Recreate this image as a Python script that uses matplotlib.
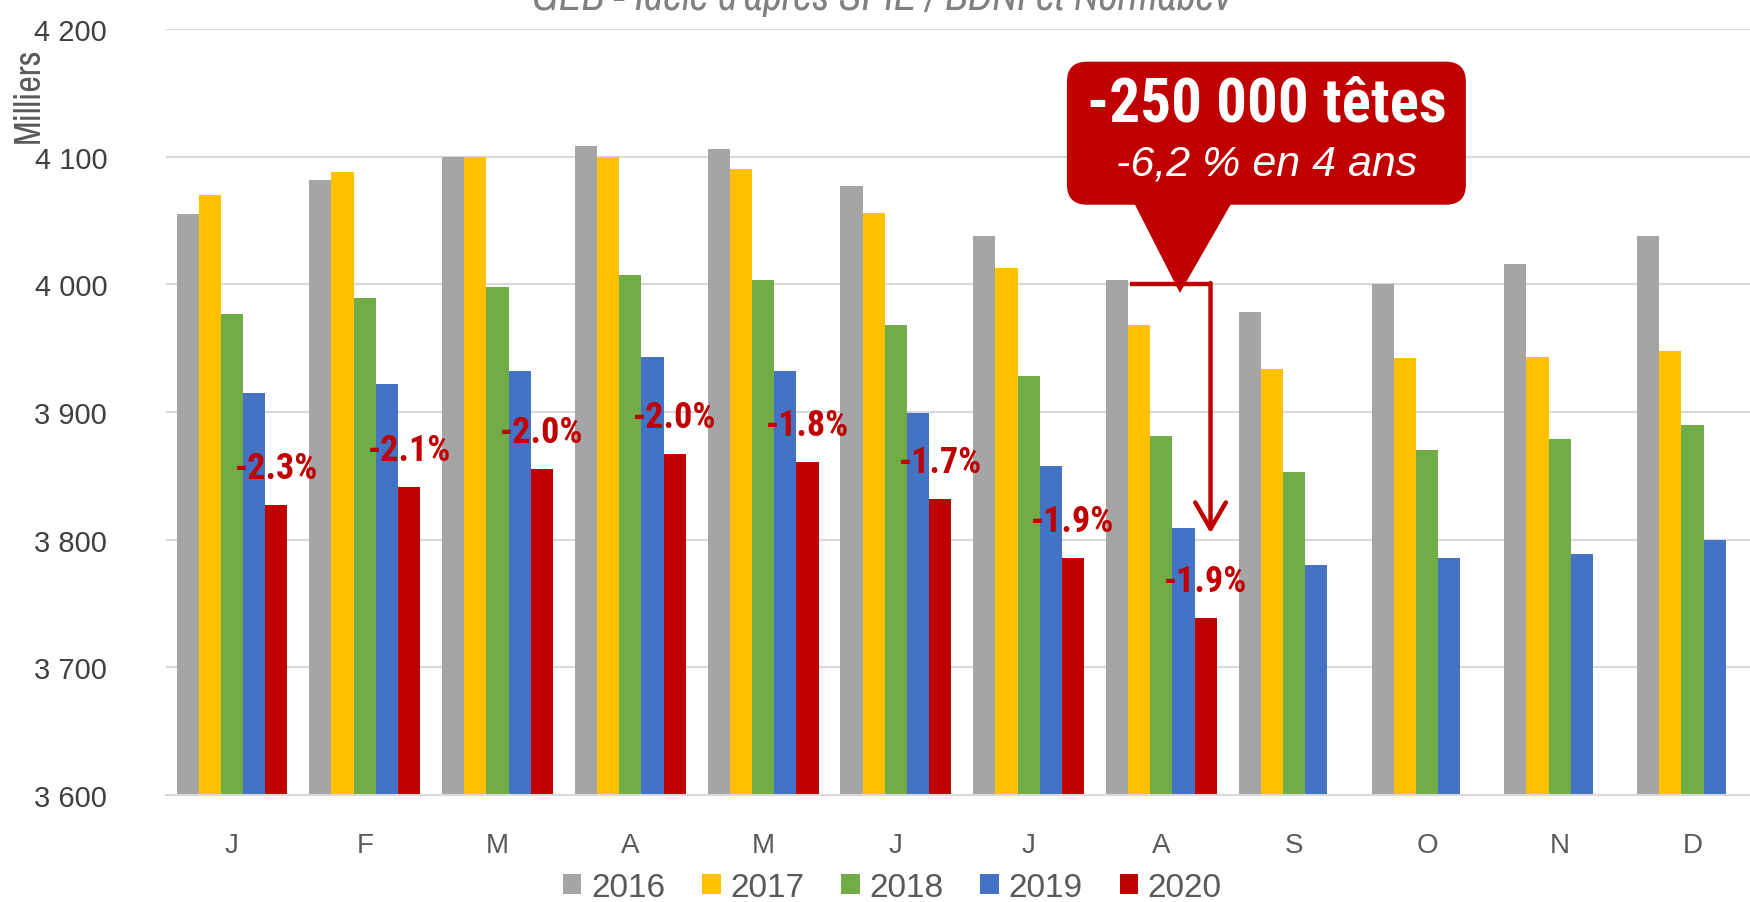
# lib data visualizations
import numpy as np
import matplotlib
matplotlib.use("Agg")
import matplotlib.pyplot as plt
from matplotlib.patches import FancyBboxPatch, Polygon
# ----------------------------------------------------------------------------------------

# data (milliers de tetes)
months = ["J", "F", "M", "A", "M", "J", "J", "A", "S", "O", "N", "D"]
years = ["2016", "2017", "2018", "2019", "2020"]
y2016 = [4055, 4082, 4100, 4108, 4106, 4077, 4038, 4003, 3978, 4000, 4016, 4038]
y2017 = [4070, 4088, 4100, 4100, 4090, 4056, 4013, 3968, 3934, 3942, 3943, 3948]
y2018 = [3977, 3989, 3998, 4007, 4003, 3968, 3928, 3881, 3853, 3870, 3879, 3890]
y2019 = [3915, 3922, 3932, 3943, 3932, 3899, 3858, 3809, 3780, 3786, 3789, 3800]
y2020 = [3827, 3841, 3855, 3867, 3861, 3832, 3786, 3739, np.nan, np.nan, np.nan, np.nan]
pct_labels = ["-2.3%", "-2.1%", "-2.0%", "-2.0%", "-1.8%", "-1.7%", "-1.9%", "-1.9%"]
colors = ["#A5A5A5", "#FFC000", "#70AD47", "#4472C4", "#C00000"]
yticks = [3600, 3700, 3800, 3900, 4000, 4100, 4200]

NARROW = ["Archivo Narrow", "Roboto Condensed", "Liberation Sans"]
NARROW_BOLD = ["Roboto Condensed", "Liberation Sans"]
SANS = ["Liberation Sans", "DejaVu Sans"]
RED = "#C00000"
# ----------------------------------------------------------------------------------------

# create barplot
fig = plt.figure(figsize=(17.5, 9.03), dpi=100)
ax = fig.add_axes([0.0946, 0.1185, 0.9105, 0.8483])

x = np.arange(len(months))
w = 0.167
series = [y2016, y2017, y2018, y2019, y2020]
for i, (vals, lab, col) in enumerate(zip(series, years, colors)):
    ax.bar(x + (i - 2) * w, vals, width=w, color=col, label=lab, zorder=2)

# percent labels above the 2020 bars
for i, txt in enumerate(pct_labels):
    ax.text(x[i] + 2 * w, y2020[i] + 29, txt, ha="center", va="center",
            fontsize=26, fontweight="bold", color=RED, family=NARROW_BOLD, zorder=4)

# axes
ax.set_xlim(-0.5, len(months) - 0.5)
ax.set_ylim(3600, 4200)
ax.set_yticks(yticks)
ax.set_yticklabels([f"{v // 1000} {v % 1000:03d}" for v in yticks],
                   fontsize=21, color="#404040", family=SANS)
ax.set_xticks(x)
ax.set_xticklabels(months, fontsize=20, color="#595959", family=SANS)
ax.tick_params(axis="y", length=0, pad=42)
ax.tick_params(axis="x", length=0, pad=27)
ax.grid(True, axis="y", color="#D9D9D9", linewidth=1.5, zorder=0)
for s in ["top", "right", "left"]:
    ax.spines[s].set_visible(False)
ax.spines["bottom"].set_color("#D9D9D9")
ax.spines["bottom"].set_linewidth(1.5)

# legend
ax.legend(loc="center", bbox_to_anchor=(0.51, 0.0166), bbox_transform=fig.transFigure,
          ncol=5, frameon=False, prop={"family": SANS, "size": 24},
          labelcolor="#595959", handlelength=0.55, handleheight=0.55,
          handletextpad=0.3, columnspacing=1.1, borderpad=0)

# y label and clipped source title
fig.text(0.016, 0.894, "Milliers", rotation=90, ha="center", va="center",
         fontsize=26, color="#595959", family=NARROW)
fig.text(0.504, 0.989, "GEB - Idele d'après SPIE / BDNI et Normabev", ha="center",
         va="baseline", fontsize=30, style="italic", color="#808080", family=NARROW)

# red bracket arrow for August
ax.plot([6.76, 7.37], [4000, 4000], color=RED, linewidth=3.2, zorder=3,
        solid_capstyle="butt")
ax.annotate("", xy=(7.37, 3805), xytext=(7.37, 4001),
            arrowprops=dict(arrowstyle="->,head_length=0.95,head_width=0.55",
                            color=RED, lw=3.2, mutation_scale=20,
                            shrinkA=0, shrinkB=0), zorder=3)

# callout box
box = FancyBboxPatch((0.5657, 0.7706), 0.8161 - 0.5657, 0.9573 - 0.7706,
                     boxstyle="round,pad=0,rounding_size=0.0126", mutation_aspect=2.08,
                     transform=ax.transAxes, facecolor=RED, edgecolor="none",
                     zorder=5, clip_on=False)
ax.add_patch(box)
tri = Polygon([(0.6071, 0.776), (0.6699, 0.776), (0.6366, 0.6554)], closed=True,
              transform=ax.transAxes, facecolor=RED, edgecolor="none", zorder=5,
              clip_on=False)
ax.add_patch(tri)
ax.text(0.691, 0.9025, "-250 000 têtes", transform=ax.transAxes, ha="center",
        va="center", fontsize=44, fontweight="bold", color="white", family=NARROW_BOLD,
        zorder=6)
ax.text(0.691, 0.824, "-6,2 % en 4 ans", transform=ax.transAxes, ha="center",
        va="center", fontsize=31, style="italic", color="white", family=SANS, zorder=6)

# save barplot
fig.savefig("out.png", dpi=100)
